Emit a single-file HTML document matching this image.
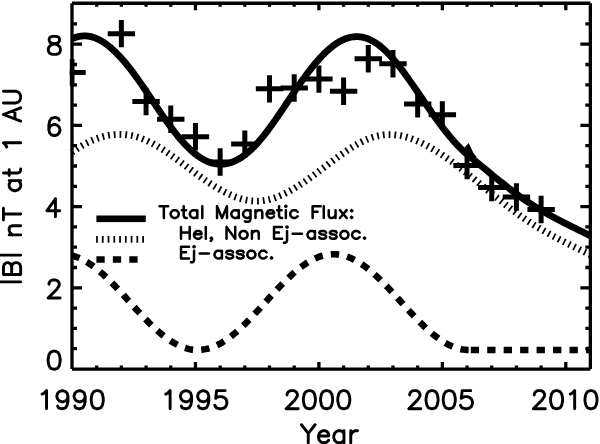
<!DOCTYPE html>
<html><head><meta charset="utf-8"><style>
html,body{margin:0;padding:0;background:#fff;font-family:"Liberation Sans",sans-serif;}
body{width:600px;height:444px;overflow:hidden;}
svg{display:block;}
</style></head><body>
<svg width="600" height="444" viewBox="0 0 600 444">
<defs><clipPath id="c"><rect x="69.6" y="0" width="521.4" height="372"/></clipPath></defs>
<path d="M72.0 3.25H590.35M72.0 369.1H590.35M72.0 3.25V369.1M590.35 3.25V369.1" fill="none" stroke="#000" stroke-width="3.3" stroke-linecap="butt"/>
<path d="M96.69 369.1V365.5M96.69 3.25V6.85M121.38 369.1V365.5M121.38 3.25V6.85M146.07 369.1V365.5M146.07 3.25V6.85M170.76 369.1V365.5M170.76 3.25V6.85M195.45 369.1V362.1M195.45 3.25V10.25M220.14 369.1V365.5M220.14 3.25V6.85M244.83 369.1V365.5M244.83 3.25V6.85M269.52 369.1V365.5M269.52 3.25V6.85M294.21 369.1V365.5M294.21 3.25V6.85M318.90 369.1V362.1M318.90 3.25V10.25M343.59 369.1V365.5M343.59 3.25V6.85M368.28 369.1V365.5M368.28 3.25V6.85M392.97 369.1V365.5M392.97 3.25V6.85M417.66 369.1V365.5M417.66 3.25V6.85M442.35 369.1V362.1M442.35 3.25V10.25M467.04 369.1V365.5M467.04 3.25V6.85M491.73 369.1V365.5M491.73 3.25V6.85M516.42 369.1V365.5M516.42 3.25V6.85M541.11 369.1V365.5M541.11 3.25V6.85M565.80 369.1V362.1M565.80 3.25V10.25M72.0 348.70H77.0M590.35 348.70H585.35M72.0 328.40H77.0M590.35 328.40H585.35M72.0 308.10H77.0M590.35 308.10H585.35M72.0 287.80H82.0M590.35 287.80H580.35M72.0 267.50H77.0M590.35 267.50H585.35M72.0 247.20H77.0M590.35 247.20H585.35M72.0 226.90H77.0M590.35 226.90H585.35M72.0 206.60H82.0M590.35 206.60H580.35M72.0 186.30H77.0M590.35 186.30H585.35M72.0 166.00H77.0M590.35 166.00H585.35M72.0 145.70H77.0M590.35 145.70H585.35M72.0 125.40H82.0M590.35 125.40H580.35M72.0 105.10H77.0M590.35 105.10H585.35M72.0 84.80H77.0M590.35 84.80H585.35M72.0 64.50H77.0M590.35 64.50H585.35M72.0 44.20H82.0M590.35 44.20H580.35M72.0 23.90H77.0M590.35 23.90H585.35" stroke="#000" stroke-width="3.3" fill="none"/>
<g clip-path="url(#c)" fill="none" stroke="#000">
<polyline points="72.00,38.79 73.23,38.24 74.47,37.75 75.70,37.32 76.94,36.94 78.17,36.62 79.41,36.37 80.64,36.17 81.88,36.02 83.11,35.94 84.34,35.91 85.58,35.93 86.81,36.01 88.05,36.15 89.28,36.34 90.52,36.59 91.75,36.89 92.99,37.24 94.22,37.64 95.46,38.10 96.69,38.61 97.92,39.16 99.16,39.77 100.39,40.43 101.63,41.13 102.86,41.88 104.10,42.68 105.33,43.52 106.57,44.41 107.80,45.35 109.03,46.32 110.27,47.34 111.50,48.40 112.74,49.51 113.97,50.65 115.21,51.83 116.44,53.05 117.68,54.30 118.91,55.59 120.15,56.92 121.38,58.28 122.61,59.67 123.85,61.10 125.08,62.56 126.32,64.04 127.55,65.56 128.79,67.11 130.02,68.68 131.26,70.27 132.49,71.90 133.72,73.55 134.96,75.22 136.19,76.91 137.43,78.62 138.66,80.36 139.90,82.11 141.13,83.88 142.37,85.66 143.60,87.46 144.84,89.27 146.07,91.09 147.30,92.92 148.54,94.75 149.77,96.59 151.01,98.43 152.24,100.28 153.48,102.12 154.71,103.96 155.95,105.80 157.18,107.63 158.42,109.46 159.65,111.27 160.88,113.08 162.12,114.88 163.35,116.66 164.59,118.43 165.82,120.18 167.06,121.91 168.29,123.63 169.53,125.32 170.76,127.00 171.99,128.65 173.23,130.28 174.46,131.88 175.70,133.45 176.93,135.00 178.17,136.52 179.40,138.01 180.64,139.46 181.87,140.89 183.11,142.28 184.34,143.63 185.57,144.95 186.81,146.23 188.04,147.47 189.28,148.68 190.51,149.84 191.75,150.97 192.98,152.05 194.22,153.09 195.45,154.09 196.68,155.05 197.92,155.96 199.15,156.82 200.39,157.64 201.62,158.41 202.86,159.14 204.09,159.82 205.33,160.45 206.56,161.04 207.80,161.57 209.03,162.06 210.26,162.50 211.50,162.89 212.73,163.23 213.97,163.53 215.20,163.77 216.44,163.96 217.67,164.11 218.91,164.20 220.14,164.25 221.37,164.24 222.61,164.19 223.84,164.09 225.08,163.93 226.31,163.73 227.55,163.48 228.78,163.18 230.02,162.83 231.25,162.43 232.49,161.98 233.72,161.48 234.95,160.94 236.19,160.35 237.42,159.71 238.66,159.02 239.89,158.29 241.13,157.51 242.36,156.69 243.60,155.82 244.83,154.90 246.06,153.94 247.30,152.94 248.53,151.89 249.77,150.80 251.00,149.66 252.24,148.48 253.47,147.27 254.71,146.01 255.94,144.71 257.18,143.36 258.41,141.98 259.64,140.57 260.88,139.11 262.11,137.62 263.35,136.09 264.58,134.54 265.82,132.95 267.05,131.34 268.29,129.69 269.52,128.03 270.75,126.34 271.99,124.63 273.22,122.89 274.46,121.15 275.69,119.38 276.93,117.60 278.16,115.80 279.40,114.00 280.63,112.18 281.87,110.36 283.10,108.53 284.33,106.69 285.57,104.85 286.80,103.01 288.04,101.17 289.27,99.33 290.51,97.49 291.74,95.66 292.98,93.83 294.21,92.01 295.44,90.20 296.68,88.40 297.91,86.61 299.15,84.83 300.38,83.07 301.62,81.32 302.85,79.59 304.09,77.88 305.32,76.19 306.56,74.52 307.79,72.87 309.02,71.25 310.26,69.65 311.49,68.08 312.73,66.53 313.96,65.01 315.20,63.52 316.43,62.06 317.67,60.64 318.90,59.24 320.13,57.88 321.37,56.55 322.60,55.26 323.84,54.00 325.07,52.78 326.31,51.60 327.54,50.46 328.78,49.36 330.01,48.30 331.25,47.28 332.48,46.30 333.71,45.37 334.95,44.48 336.18,43.64 337.42,42.84 338.65,42.08 339.89,41.38 341.12,40.72 342.36,40.11 343.59,39.55 344.82,39.03 346.06,38.57 347.29,38.15 348.53,37.79 349.76,37.48 351.00,37.21 352.23,37.00 353.47,36.84 354.70,36.73 355.94,36.67 357.17,36.67 358.40,36.71 359.64,36.81 360.87,36.96 362.11,37.17 363.34,37.42 364.58,37.73 365.81,38.10 367.05,38.51 368.28,38.98 369.51,39.50 370.75,40.07 371.98,40.69 373.22,41.37 374.45,42.09 375.69,42.87 376.92,43.71 378.16,44.59 379.39,45.52 380.62,46.51 381.86,47.54 383.09,48.62 384.33,49.74 385.56,50.91 386.80,52.12 388.03,53.38 389.27,54.67 390.50,56.00 391.74,57.37 392.97,58.78 394.20,60.22 395.44,61.69 396.67,63.19 397.91,64.72 399.14,66.28 400.38,67.87 401.61,69.48 402.85,71.12 404.08,72.77 405.31,74.45 406.55,76.15 407.78,77.86 409.02,79.60 410.25,81.34 411.49,83.10 412.72,84.87 413.96,86.65 415.19,88.44 416.43,90.23 417.66,92.03 418.89,93.84 420.13,95.65 421.36,97.46 422.60,99.27 423.83,101.07 425.07,102.88 426.30,104.68 427.54,106.48 428.77,108.27 430.00,110.05 431.24,111.82 432.47,113.58 433.71,115.33 434.94,117.07 436.18,118.79 437.41,120.49 438.65,122.18 439.88,123.86 441.12,125.51 442.35,127.14 443.58,128.75 444.82,130.35 446.05,131.91 447.29,133.46 448.52,134.98 449.76,136.47 450.99,137.94 452.23,139.38 453.46,140.79 454.69,142.18 455.93,143.53 457.16,144.86 458.40,146.15 459.63,147.41 460.87,148.64 462.10,149.84 463.34,151.01 464.57,152.14 465.81,153.24 467.04,154.31 468.27,155.34 469.51,156.34 470.74,157.33 471.98,158.33 473.21,159.33 474.45,160.34 475.68,161.34 476.92,162.35 478.15,163.36 479.39,164.38 480.62,165.39 481.85,166.41 483.09,167.42 484.32,168.44 485.56,169.45 486.79,170.47 488.03,171.49 489.26,172.50 490.50,173.51 491.73,174.52 492.96,175.53 494.20,176.54 495.43,177.55 496.67,178.55 497.90,179.55 499.14,180.54 500.37,181.54 501.61,182.52 502.84,183.51 504.08,184.49 505.31,185.46 506.54,186.43 507.78,187.39 509.01,188.35 510.25,189.30 511.48,190.24 512.72,191.18 513.95,192.11 515.19,193.03 516.42,193.95 517.65,194.85 518.89,195.75 520.12,196.64 521.36,197.52 522.59,198.39 523.83,199.25 525.06,200.10 526.30,200.94 527.53,201.77 528.77,202.58 530.00,203.39 531.23,204.19 532.47,204.98 533.70,205.76 534.94,206.54 536.17,207.30 537.41,208.05 538.64,208.80 539.88,209.54 541.11,210.27 542.34,210.99 543.58,211.71 544.81,212.42 546.05,213.12 547.28,213.81 548.52,214.50 549.75,215.19 550.99,215.86 552.22,216.53 553.46,217.20 554.69,217.86 555.92,218.52 557.16,219.17 558.39,219.81 559.63,220.46 560.86,221.10 562.10,221.73 563.33,222.36 564.57,222.99 565.80,223.61 567.03,224.24 568.27,224.85 569.50,225.47 570.74,226.09 571.97,226.70 573.21,227.31 574.44,227.92 575.68,228.53 576.91,229.14 578.14,229.74 579.38,230.35 580.61,230.96 581.85,231.56 583.08,232.17 584.32,232.78 585.55,233.39 586.79,233.99 588.02,234.60 589.26,235.22 590.49,235.83" stroke-width="6.8" stroke-linejoin="round"/>
<polygon points="463.6,148.6 468.7,143.1 473.2,152.4 476.8,157.2 470,157 465,152" fill="#000" stroke="none"/>
<polyline points="72.00,152.22 73.23,151.34 74.47,150.47 75.70,149.63 76.94,148.81 78.17,148.01 79.41,147.23 80.64,146.47 81.88,145.73 83.11,145.02 84.34,144.33 85.58,143.66 86.81,143.01 88.05,142.39 89.28,141.78 90.52,141.20 91.75,140.65 92.99,140.11 94.22,139.60 95.46,139.11 96.69,138.65 97.92,138.21 99.16,137.79 100.39,137.39 101.63,137.02 102.86,136.67 104.10,136.35 105.33,136.05 106.57,135.78 107.80,135.53 109.03,135.30 110.27,135.10 111.50,134.92 112.74,134.77 113.97,134.64 115.21,134.53 116.44,134.46 117.68,134.40 118.91,134.37 120.15,134.37 121.38,134.40 122.61,134.44 123.85,134.52 125.08,134.62 126.32,134.75 127.55,134.90 128.79,135.08 130.02,135.28 131.26,135.51 132.49,135.77 133.72,136.05 134.96,136.37 136.19,136.70 137.43,137.07 138.66,137.46 139.90,137.88 141.13,138.32 142.37,138.79 143.60,139.29 144.84,139.81 146.07,140.35 147.30,140.91 148.54,141.50 149.77,142.11 151.01,142.73 152.24,143.38 153.48,144.05 154.71,144.73 155.95,145.43 157.18,146.15 158.42,146.89 159.65,147.64 160.88,148.41 162.12,149.19 163.35,149.98 164.59,150.79 165.82,151.61 167.06,152.44 168.29,153.29 169.53,154.14 170.76,155.00 171.99,155.87 173.23,156.75 174.46,157.64 175.70,158.53 176.93,159.43 178.17,160.34 179.40,161.25 180.64,162.16 181.87,163.08 183.11,164.00 184.34,164.92 185.57,165.84 186.81,166.77 188.04,167.69 189.28,168.62 190.51,169.54 191.75,170.46 192.98,171.37 194.22,172.29 195.45,173.20 196.68,174.10 197.92,175.00 199.15,175.90 200.39,176.78 201.62,177.66 202.86,178.54 204.09,179.40 205.33,180.26 206.56,181.10 207.80,181.94 209.03,182.77 210.26,183.58 211.50,184.38 212.73,185.18 213.97,185.96 215.20,186.72 216.44,187.48 217.67,188.21 218.91,188.94 220.14,189.65 221.37,190.34 222.61,191.02 223.84,191.68 225.08,192.32 226.31,192.94 227.55,193.55 228.78,194.14 230.02,194.70 231.25,195.25 232.49,195.78 233.72,196.28 234.95,196.76 236.19,197.23 237.42,197.66 238.66,198.08 239.89,198.47 241.13,198.83 242.36,199.17 243.60,199.49 244.83,199.78 246.06,200.04 247.30,200.28 248.53,200.48 249.77,200.66 251.00,200.81 252.24,200.93 253.47,201.02 254.71,201.08 255.94,201.11 257.18,201.11 258.41,201.07 259.64,201.01 260.88,200.91 262.11,200.78 263.35,200.62 264.58,200.43 265.82,200.21 267.05,199.96 268.29,199.68 269.52,199.38 270.75,199.05 271.99,198.69 273.22,198.31 274.46,197.90 275.69,197.47 276.93,197.01 278.16,196.53 279.40,196.03 280.63,195.50 281.87,194.96 283.10,194.39 284.33,193.80 285.57,193.19 286.80,192.56 288.04,191.92 289.27,191.25 290.51,190.57 291.74,189.87 292.98,189.15 294.21,188.42 295.44,187.67 296.68,186.91 297.91,186.13 299.15,185.34 300.38,184.54 301.62,183.72 302.85,182.90 304.09,182.06 305.32,181.21 306.56,180.35 307.79,179.48 309.02,178.60 310.26,177.71 311.49,176.82 312.73,175.92 313.96,175.01 315.20,174.10 316.43,173.18 317.67,172.25 318.90,171.32 320.13,170.39 321.37,169.46 322.60,168.52 323.84,167.58 325.07,166.64 326.31,165.70 327.54,164.76 328.78,163.82 330.01,162.89 331.25,161.95 332.48,161.03 333.71,160.10 334.95,159.18 336.18,158.27 337.42,157.36 338.65,156.46 339.89,155.56 341.12,154.68 342.36,153.80 343.59,152.94 344.82,152.09 346.06,151.24 347.29,150.41 348.53,149.60 349.76,148.79 351.00,148.01 352.23,147.23 353.47,146.48 354.70,145.74 355.94,145.01 357.17,144.31 358.40,143.62 359.64,142.95 360.87,142.31 362.11,141.68 363.34,141.08 364.58,140.50 365.81,139.94 367.05,139.41 368.28,138.90 369.51,138.42 370.75,137.96 371.98,137.53 373.22,137.13 374.45,136.75 375.69,136.41 376.92,136.09 378.16,135.81 379.39,135.56 380.62,135.33 381.86,135.14 383.09,134.98 384.33,134.85 385.56,134.75 386.80,134.67 388.03,134.63 389.27,134.61 390.50,134.63 391.74,134.67 392.97,134.73 394.20,134.82 395.44,134.94 396.67,135.09 397.91,135.26 399.14,135.46 400.38,135.68 401.61,135.92 402.85,136.19 404.08,136.48 405.31,136.80 406.55,137.14 407.78,137.50 409.02,137.88 410.25,138.28 411.49,138.71 412.72,139.15 413.96,139.62 415.19,140.11 416.43,140.61 417.66,141.14 418.89,141.68 420.13,142.24 421.36,142.82 422.60,143.42 423.83,144.03 425.07,144.67 426.30,145.31 427.54,145.98 428.77,146.66 430.00,147.35 431.24,148.06 432.47,148.79 433.71,149.52 434.94,150.28 436.18,151.04 437.41,151.82 438.65,152.61 439.88,153.41 441.12,154.22 442.35,155.05 443.58,155.88 444.82,156.73 446.05,157.59 447.29,158.45 448.52,159.33 449.76,160.22 450.99,161.11 452.23,162.01 453.46,162.92 454.69,163.84 455.93,164.77 457.16,165.71 458.40,166.65 459.63,167.60 460.87,168.55 462.10,169.51 463.34,170.48 464.57,171.45 465.81,172.43 467.04,173.41 468.27,174.40 469.51,175.39 470.74,176.38 471.98,177.38 473.21,178.38 474.45,179.38 475.68,180.39 476.92,181.40 478.15,182.41 479.39,183.42 480.62,184.44 481.85,185.45 483.09,186.47 484.32,187.48 485.56,188.50 486.79,189.52 488.03,190.53 489.26,191.55 490.50,192.56 491.73,193.57 492.96,194.58 494.20,195.59 495.43,196.59 496.67,197.60 497.90,198.60 499.14,199.59 500.37,200.58 501.61,201.57 502.84,202.55 504.08,203.53 505.31,204.51 506.54,205.48 507.78,206.44 509.01,207.40 510.25,208.35 511.48,209.29 512.72,210.23 513.95,211.16 515.19,212.08 516.42,212.99 517.65,213.90 518.89,214.80 520.12,215.68 521.36,216.56 522.59,217.43 523.83,218.29 525.06,219.14 526.30,219.98 527.53,220.81 528.77,221.63 530.00,222.44 531.23,223.24 532.47,224.03 533.70,224.81 534.94,225.58 536.17,226.35 537.41,227.10 538.64,227.85 539.88,228.58 541.11,229.32 542.34,230.04 543.58,230.75 544.81,231.46 546.05,232.17 547.28,232.86 548.52,233.55 549.75,234.23 550.99,234.91 552.22,235.58 553.46,236.25 554.69,236.91 555.92,237.56 557.16,238.21 558.39,238.86 559.63,239.50 560.86,240.14 562.10,240.78 563.33,241.41 564.57,242.04 565.80,242.66 567.03,243.28 568.27,243.90 569.50,244.52 570.74,245.13 571.97,245.75 573.21,246.36 574.44,246.97 575.68,247.58 576.91,248.18 578.14,248.79 579.38,249.40 580.61,250.00 581.85,250.61 583.08,251.22 584.32,251.82 585.55,252.43 586.79,253.04 588.02,253.65 589.26,254.26 590.49,254.87" stroke-width="6.8" stroke-dasharray="1.75 4.015" stroke-dashoffset="0.250"/>
<polyline points="72.00,255.57 73.32,255.93 74.65,256.33 75.97,256.78 77.29,257.27 78.62,257.80 79.94,258.38 81.26,258.99 82.59,259.65 83.91,260.34 85.24,261.08 86.56,261.85 87.88,262.66 89.21,263.51 90.53,264.39 91.85,265.31 93.18,266.26 94.50,267.25 95.82,268.27 97.15,269.32 98.47,270.41 99.79,271.52 101.12,272.66 102.44,273.83 103.77,275.03 105.09,276.25 106.41,277.49 107.74,278.76 109.06,280.05 110.38,281.36 111.71,282.69 113.03,284.04 114.35,285.40 115.68,286.79 117.00,288.18 118.32,289.59 119.65,291.01 120.97,292.44 122.29,293.88 123.62,295.33 124.94,296.78 126.27,298.24 127.59,299.70 128.91,301.17 130.24,302.63 131.56,304.10 132.88,305.56 134.21,307.02 135.53,308.48 136.85,309.93 138.18,311.37 139.50,312.80 140.82,314.23 142.15,315.64 143.47,317.04 144.80,318.42 146.12,319.79 147.44,321.15 148.77,322.48 150.09,323.80 151.41,325.10 152.74,326.37 154.06,327.62 155.38,328.85 156.71,330.05 158.03,331.23 159.35,332.38 160.68,333.50 162.00,334.59 163.33,335.65 164.65,336.68 165.97,337.68 167.30,338.64 168.62,339.57 169.94,340.46 171.27,341.32 172.59,342.14 173.91,342.93 175.24,343.67 176.56,344.38 177.88,345.05 179.21,345.67 180.53,346.26 181.85,346.80 183.18,347.30 184.50,347.76 185.83,348.18 187.15,348.55 188.47,348.88 189.80,349.17 191.12,349.41 192.44,349.61 193.77,349.76 195.09,349.87 196.41,349.93 197.74,349.95 199.06,349.93 200.38,349.86 201.71,349.74 203.03,349.58 204.36,349.37 205.68,349.12 207.00,348.83 208.33,348.49 209.65,348.11 210.97,347.69 212.30,347.22 213.62,346.71 214.94,346.16 216.27,345.57 217.59,344.93 218.91,344.26 220.24,343.55 221.56,342.79 222.88,342.00 224.21,341.18 225.53,340.31 226.86,339.41 228.18,338.48 229.50,337.51 230.83,336.51 232.15,335.47 233.47,334.40 234.80,333.31 236.12,332.18 237.44,331.03 238.77,329.85 240.09,328.64 241.41,327.41 242.74,326.15 244.06,324.87 245.39,323.57 246.71,322.25 248.03,320.92 249.36,319.56 250.68,318.19 252.00,316.80 253.33,315.40 254.65,313.98 255.97,312.56 257.30,311.12 258.62,309.68 259.94,308.23 261.27,306.77 262.59,305.31 263.91,303.85 265.24,302.38 266.56,300.92 267.89,299.45 269.21,297.99 270.53,296.53 271.86,295.08 273.18,293.63 274.50,292.19 275.83,290.76 277.15,289.35 278.47,287.94 279.80,286.55 281.12,285.17 282.44,283.81 283.77,282.46 285.09,281.13 286.42,279.83 287.74,278.54 289.06,277.28 290.39,276.03 291.71,274.82 293.03,273.63 294.36,272.46 295.68,271.33 297.00,270.22 298.33,269.14 299.65,268.09 300.97,267.08 302.30,266.10 303.62,265.15 304.94,264.24 306.27,263.36 307.59,262.52 308.92,261.71 310.24,260.95 311.56,260.22 312.89,259.53 314.21,258.88 315.53,258.28 316.86,257.71 318.18,257.18 319.50,256.70 320.83,256.26 322.15,255.86 323.47,255.51 324.80,255.20 326.12,254.93 327.45,254.71 328.77,254.53 330.09,254.40 331.42,254.31 332.74,254.27 334.06,254.27 335.39,254.32 336.71,254.41 338.03,254.55 339.36,254.73 340.68,254.95 342.00,255.22 343.33,255.54 344.65,255.90 345.98,256.30 347.30,256.74 348.62,257.23 349.95,257.76 351.27,258.33 352.59,258.94 353.92,259.59 355.24,260.28 356.56,261.01 357.89,261.78 359.21,262.59 360.53,263.43 361.86,264.31 363.18,265.23 364.50,266.18 365.83,267.17 367.15,268.18 368.48,269.23 369.80,270.31 371.12,271.42 372.45,272.56 373.77,273.73 375.09,274.92 376.42,276.14 377.74,277.38 379.06,278.65 380.39,279.94 381.71,281.25 383.03,282.58 384.36,283.92 385.68,285.29 387.01,286.67 388.33,288.06 389.65,289.47 390.98,290.89 392.30,292.32 393.62,293.76 394.95,295.20 396.27,296.66 397.59,298.12 398.92,299.58 400.24,301.04 401.56,302.51 402.89,303.97 404.21,305.44 405.53,306.90 406.86,308.35 408.18,309.80 409.51,311.25 410.83,312.68 412.15,314.10 413.48,315.52 414.80,316.92 416.12,318.31 417.45,319.68 418.77,321.03 420.09,322.37 421.42,323.69 422.74,324.98 424.06,326.26 425.39,327.51 426.71,328.74 428.04,329.95 429.36,331.13 430.68,332.28 432.01,333.40 433.33,334.50 434.65,335.56 435.98,336.59 437.30,337.59 438.62,338.56 439.95,339.49 441.27,340.39 442.59,341.25 443.92,342.07 445.24,342.86 446.56,343.61 447.89,344.32 449.21,344.99 450.54,345.62 451.86,346.21 453.18,346.76 454.51,347.26 455.83,347.73 457.15,348.15 458.48,348.52 459.80,348.86 461.12,349.15 462.45,349.39 463.77,349.59 465.09,349.75 466.42,349.86 467.74,349.93 469.07,349.95" stroke-width="6.6" stroke-dasharray="8.3 8.160" stroke-dashoffset="0.408"/>
<path d="M469.07 349.95H595" stroke-width="6.6" stroke-dasharray="8.3 8.160" stroke-dashoffset="-1.685"/>
<path d="M58.30 72.62H85.70M72.00 58.92V86.32M107.68 33.64H135.08M121.38 19.94V47.34M132.37 101.45H159.77M146.07 87.75V115.15M157.06 119.31H184.46M170.76 105.61V133.01M181.75 136.77H209.15M195.45 123.07V150.47M206.44 161.94H233.84M220.14 148.24V175.64M231.13 144.08H258.53M244.83 130.38V157.78M255.82 88.86H283.22M269.52 75.16V102.56M280.51 88.05H307.91M294.21 74.35V101.75M305.20 79.12H332.60M318.90 65.42V92.82M329.89 91.30H357.29M343.59 77.60V105.00M354.58 58.82H381.98M368.28 45.12V72.52M379.27 63.69H406.67M392.97 49.99V77.39M403.96 103.88H431.36M417.66 90.18V117.58M428.65 114.84H456.05M442.35 101.14V128.54M453.34 165.59H480.74M467.04 151.89V179.29M478.03 187.52H505.43M491.73 173.82V201.22M502.72 197.06H530.12M516.42 183.36V210.76M527.41 209.44H554.81M541.11 195.74V223.14" stroke-width="5.0"/>
</g>
<rect x="96.4" y="215.5" width="49.4" height="6.6" fill="#000"/>
<path d="M96.1 239.4H146" stroke="#000" stroke-width="6.8" stroke-dasharray="1.75 4.015"/>
<path d="M96.4 259.5H139" stroke="#000" stroke-width="6.6" stroke-dasharray="8.3 8.160"/>
<path d="M52.63 36.35L50.05 37.21L49.19 38.93L49.19 40.65L50.05 42.37L51.77 43.23L55.21 44.09L57.79 44.95L59.51 46.67L60.37 48.39L60.37 50.97L59.51 52.69L58.65 53.55L56.07 54.41L52.63 54.41L50.05 53.55L49.19 52.69L48.33 50.97L48.33 48.39L49.19 46.67L50.91 44.95L53.49 44.09L56.93 43.23L58.65 42.37L59.51 40.65L59.51 38.93L58.65 37.21L56.07 36.35L52.63 36.35M59.13 120.13L58.27 118.41L55.69 117.55L53.97 117.55L51.39 118.41L49.67 120.99L48.81 125.29L48.81 129.59L49.67 133.03L51.39 134.75L53.97 135.61L54.83 135.61L57.41 134.75L59.13 133.03L59.99 130.45L59.99 129.59L59.13 127.01L57.41 125.29L54.83 124.43L53.97 124.43L51.39 125.29L49.67 127.01L48.81 129.59M55.45 198.75L46.85 210.79L59.75 210.79M55.45 198.75L55.45 216.81M48.94 284.25L48.94 283.39L49.80 281.67L50.66 280.81L52.38 279.95L55.82 279.95L57.54 280.81L58.40 281.67L59.26 283.39L59.26 285.11L58.40 286.83L56.68 289.41L48.08 298.01L60.12 298.01M53.29 351.15L50.71 352.01L48.99 354.59L48.13 358.89L48.13 361.47L48.99 365.77L50.71 368.35L53.29 369.21L55.01 369.21L57.59 368.35L59.31 365.77L60.17 361.47L60.17 358.89L59.31 354.59L57.59 352.01L55.01 351.15L53.29 351.15M42.22 394.09L43.94 393.23L46.52 390.65L46.52 408.71M68.02 396.67L67.16 399.25L65.44 400.97L62.86 401.83L62.00 401.83L59.42 400.97L57.70 399.25L56.84 396.67L56.84 395.81L57.70 393.23L59.42 391.51L62.00 390.65L62.86 390.65L65.44 391.51L67.16 393.23L68.02 396.67L68.02 400.97L67.16 405.27L65.44 407.85L62.86 408.71L61.14 408.71L58.56 407.85L57.70 406.13M85.22 396.67L84.36 399.25L82.64 400.97L80.06 401.83L79.20 401.83L76.62 400.97L74.90 399.25L74.04 396.67L74.04 395.81L74.90 393.23L76.62 391.51L79.20 390.65L80.06 390.65L82.64 391.51L84.36 393.23L85.22 396.67L85.22 400.97L84.36 405.27L82.64 407.85L80.06 408.71L78.34 408.71L75.76 407.85L74.90 406.13M96.40 390.65L93.82 391.51L92.10 394.09L91.24 398.39L91.24 400.97L92.10 405.27L93.82 407.85L96.40 408.71L98.12 408.71L100.70 407.85L102.42 405.27L103.28 400.97L103.28 398.39L102.42 394.09L100.70 391.51L98.12 390.65L96.40 390.65M165.82 394.09L167.54 393.23L170.12 390.65L170.12 408.71M191.62 396.67L190.76 399.25L189.04 400.97L186.46 401.83L185.60 401.83L183.02 400.97L181.30 399.25L180.44 396.67L180.44 395.81L181.30 393.23L183.02 391.51L185.60 390.65L186.46 390.65L189.04 391.51L190.76 393.23L191.62 396.67L191.62 400.97L190.76 405.27L189.04 407.85L186.46 408.71L184.74 408.71L182.16 407.85L181.30 406.13M208.82 396.67L207.96 399.25L206.24 400.97L203.66 401.83L202.80 401.83L200.22 400.97L198.50 399.25L197.64 396.67L197.64 395.81L198.50 393.23L200.22 391.51L202.80 390.65L203.66 390.65L206.24 391.51L207.96 393.23L208.82 396.67L208.82 400.97L207.96 405.27L206.24 407.85L203.66 408.71L201.94 408.71L199.36 407.85L198.50 406.13M225.16 390.65L216.56 390.65L215.70 398.39L216.56 397.53L219.14 396.67L221.72 396.67L224.30 397.53L226.02 399.25L226.88 401.83L226.88 403.55L226.02 406.13L224.30 407.85L221.72 408.71L219.14 408.71L216.56 407.85L215.70 406.99L214.84 405.27M287.04 394.95L287.04 394.09L287.90 392.37L288.76 391.51L290.48 390.65L293.92 390.65L295.64 391.51L296.50 392.37L297.36 394.09L297.36 395.81L296.50 397.53L294.78 400.11L286.18 408.71L298.22 408.71M308.54 390.65L305.96 391.51L304.24 394.09L303.38 398.39L303.38 400.97L304.24 405.27L305.96 407.85L308.54 408.71L310.26 408.71L312.84 407.85L314.56 405.27L315.42 400.97L315.42 398.39L314.56 394.09L312.84 391.51L310.26 390.65L308.54 390.65M325.74 390.65L323.16 391.51L321.44 394.09L320.58 398.39L320.58 400.97L321.44 405.27L323.16 407.85L325.74 408.71L327.46 408.71L330.04 407.85L331.76 405.27L332.62 400.97L332.62 398.39L331.76 394.09L330.04 391.51L327.46 390.65L325.74 390.65M342.94 390.65L340.36 391.51L338.64 394.09L337.78 398.39L337.78 400.97L338.64 405.27L340.36 407.85L342.94 408.71L344.66 408.71L347.24 407.85L348.96 405.27L349.82 400.97L349.82 398.39L348.96 394.09L347.24 391.51L344.66 390.65L342.94 390.65M409.69 394.95L409.69 394.09L410.55 392.37L411.41 391.51L413.13 390.65L416.57 390.65L418.29 391.51L419.15 392.37L420.01 394.09L420.01 395.81L419.15 397.53L417.43 400.11L408.83 408.71L420.87 408.71M431.19 390.65L428.61 391.51L426.89 394.09L426.03 398.39L426.03 400.97L426.89 405.27L428.61 407.85L431.19 408.71L432.91 408.71L435.49 407.85L437.21 405.27L438.07 400.97L438.07 398.39L437.21 394.09L435.49 391.51L432.91 390.65L431.19 390.65M448.39 390.65L445.81 391.51L444.09 394.09L443.23 398.39L443.23 400.97L444.09 405.27L445.81 407.85L448.39 408.71L450.11 408.71L452.69 407.85L454.41 405.27L455.27 400.97L455.27 398.39L454.41 394.09L452.69 391.51L450.11 390.65L448.39 390.65M470.75 390.65L462.15 390.65L461.29 398.39L462.15 397.53L464.73 396.67L467.31 396.67L469.89 397.53L471.61 399.25L472.47 401.83L472.47 403.55L471.61 406.13L469.89 407.85L467.31 408.71L464.73 408.71L462.15 407.85L461.29 406.99L460.43 405.27M534.24 394.95L534.24 394.09L535.10 392.37L535.96 391.51L537.68 390.65L541.12 390.65L542.84 391.51L543.70 392.37L544.56 394.09L544.56 395.81L543.70 397.53L541.98 400.11L533.38 408.71L545.42 408.71M555.74 390.65L553.16 391.51L551.44 394.09L550.58 398.39L550.58 400.97L551.44 405.27L553.16 407.85L555.74 408.71L557.46 408.71L560.04 407.85L561.76 405.27L562.62 400.97L562.62 398.39L561.76 394.09L560.04 391.51L557.46 390.65L555.74 390.65M570.36 394.09L572.08 393.23L574.66 390.65L574.66 408.71M590.14 390.65L587.56 391.51L585.84 394.09L584.98 398.39L584.98 400.97L585.84 405.27L587.56 407.85L590.14 408.71L591.86 408.71L594.44 407.85L596.16 405.27L597.02 400.97L597.02 398.39L596.16 394.09L594.44 391.51L591.86 390.65L590.14 390.65M301.45 424.75L308.25 433.35L308.25 442.81M315.05 424.75L308.25 433.35M318.45 435.93L328.65 435.93L328.65 434.21L327.80 432.49L326.95 431.63L325.25 430.77L322.70 430.77L321.00 431.63L319.30 433.35L318.45 435.93L318.45 437.65L319.30 440.23L321.00 441.95L322.70 442.81L325.25 442.81L326.95 441.95L328.65 440.23M343.95 430.77L343.95 442.81M343.95 433.35L342.25 431.63L340.55 430.77L338.00 430.77L336.30 431.63L334.60 433.35L333.75 435.93L333.75 437.65L334.60 440.23L336.30 441.95L338.00 442.81L340.55 442.81L342.25 441.95L343.95 440.23M350.75 430.77L350.75 442.81M350.75 435.93L351.60 433.35L353.30 431.63L355.00 430.77L357.55 430.77" fill="none" stroke="#000" stroke-width="2.9" stroke-linecap="round" stroke-linejoin="round"/>
<path d="M20.67 281.90L0.17 281.90M3.45 274.43L20.67 274.43M3.45 274.43L3.45 266.87L4.27 264.35L5.09 263.51L6.73 262.67L8.37 262.67L10.01 263.51L10.83 264.35L11.65 266.87M11.65 274.43L11.65 266.87L12.47 264.35L13.29 263.51L14.93 262.67L17.39 262.67L19.03 263.51L19.85 264.35L20.67 266.87L20.67 274.43M20.67 255.10L0.17 255.10M9.19 234.92L20.67 234.92M12.47 234.92L10.01 232.40L9.19 230.72L9.19 228.20L10.01 226.52L12.47 225.68L20.67 225.68M3.45 214.05L20.67 214.05M3.45 219.93L3.45 208.17M9.19 180.61L20.67 180.61M11.65 180.61L10.01 182.29L9.19 183.97L9.19 186.49L10.01 188.17L11.65 189.85L14.11 190.69L15.75 190.69L18.21 189.85L19.85 188.17L20.67 186.49L20.67 183.97L19.85 182.29L18.21 180.61M3.45 173.04L17.39 173.04L19.85 172.20L20.67 170.52L20.67 168.84M9.19 175.56L9.19 169.68M6.73 147.00L5.91 145.32L3.45 142.80L20.67 142.80M3.45 114.50L20.67 121.22M3.45 114.50L20.67 107.78M14.93 118.70L14.93 110.30M3.45 102.98L15.75 102.98L18.21 102.14L19.85 100.46L20.67 97.94L20.67 96.26L19.85 93.74L18.21 92.06L15.75 91.22L3.45 91.22" fill="none" stroke="#000" stroke-width="2.9" stroke-linecap="round" stroke-linejoin="round"/>
<path d="M163.85 206.25L163.85 217.95M159.51 206.25L168.19 206.25M173.77 210.15L172.53 210.71L171.29 211.82L170.67 213.49L170.67 214.60L171.29 216.28L172.53 217.39L173.77 217.95L175.63 217.95L176.87 217.39L178.11 216.28L178.73 214.60L178.73 213.49L178.11 211.82L176.87 210.71L175.63 210.15L173.77 210.15M183.69 206.25L183.69 215.72L184.31 217.39L185.55 217.95L186.79 217.95M181.83 210.15L186.17 210.15M197.33 210.15L197.33 217.95M197.33 211.82L196.09 210.71L194.85 210.15L192.99 210.15L191.75 210.71L190.51 211.82L189.89 213.49L189.89 214.60L190.51 216.28L191.75 217.39L192.99 217.95L194.85 217.95L196.09 217.39L197.33 216.28M202.29 206.25L202.29 217.95M217.05 206.25L217.05 217.95M217.05 206.25L222.01 217.95M226.97 206.25L222.01 217.95M226.97 206.25L226.97 217.95M238.75 210.15L238.75 217.95M238.75 211.82L237.51 210.71L236.27 210.15L234.41 210.15L233.17 210.71L231.93 211.82L231.31 213.49L231.31 214.60L231.93 216.28L233.17 217.39L234.41 217.95L236.27 217.95L237.51 217.39L238.75 216.28M250.53 210.15L250.53 219.06L249.91 220.73L249.29 221.29L248.05 221.85L246.19 221.85L244.95 221.29M250.53 211.82L249.29 210.71L248.05 210.15L246.19 210.15L244.95 210.71L243.71 211.82L243.09 213.49L243.09 214.60L243.71 216.28L244.95 217.39L246.19 217.95L248.05 217.95L249.29 217.39L250.53 216.28M255.49 210.15L255.49 217.95M255.49 212.38L257.35 210.71L258.59 210.15L260.45 210.15L261.69 210.71L262.31 212.38L262.31 217.95M266.65 213.49L274.09 213.49L274.09 212.38L273.47 211.26L272.85 210.71L271.61 210.15L269.75 210.15L268.51 210.71L267.27 211.82L266.65 213.49L266.65 214.60L267.27 216.28L268.51 217.39L269.75 217.95L271.61 217.95L272.85 217.39L274.09 216.28M279.05 206.25L279.05 215.72L279.67 217.39L280.91 217.95L282.15 217.95M277.19 210.15L281.53 210.15M285.25 206.25L285.87 206.81L286.49 206.25L285.87 205.69L285.25 206.25M285.87 210.15L285.87 217.95M297.65 211.82L296.41 210.71L295.17 210.15L293.31 210.15L292.07 210.71L290.83 211.82L290.21 213.49L290.21 214.60L290.83 216.28L292.07 217.39L293.31 217.95L295.17 217.95L296.41 217.39L297.65 216.28M312.61 206.25L312.61 217.95M312.61 206.25L320.67 206.25M312.61 211.82L317.57 211.82M323.77 206.25L323.77 217.95M328.73 210.15L328.73 215.72L329.35 217.39L330.59 217.95L332.45 217.95L333.69 217.39L335.55 215.72M335.55 210.15L335.55 217.95M339.89 210.15L346.71 217.95M346.71 210.15L339.89 217.95M351.67 210.15L351.05 210.71L351.67 211.26L352.29 210.71L351.67 210.15M351.67 216.83L351.05 217.39L351.67 217.95L352.29 217.39L351.67 216.83M181.00 227.05L181.00 238.75M189.68 227.05L189.68 238.75M181.00 232.62L189.68 232.62M194.02 234.29L201.46 234.29L201.46 233.18L200.84 232.06L200.22 231.51L198.98 230.95L197.12 230.95L195.88 231.51L194.64 232.62L194.02 234.29L194.02 235.41L194.64 237.08L195.88 238.19L197.12 238.75L198.98 238.75L200.22 238.19L201.46 237.08M205.80 227.05L205.80 238.75M212.00 238.19L211.38 238.75L210.76 238.19L211.38 237.63L212.00 238.19L212.00 239.30L211.38 240.42L210.76 240.98M226.53 227.05L226.53 238.75M226.53 227.05L235.21 238.75M235.21 227.05L235.21 238.75M242.65 230.95L241.41 231.51L240.17 232.62L239.55 234.29L239.55 235.41L240.17 237.08L241.41 238.19L242.65 238.75L244.51 238.75L245.75 238.19L246.99 237.08L247.61 235.41L247.61 234.29L246.99 232.62L245.75 231.51L244.51 230.95L242.65 230.95M251.95 230.95L251.95 238.75M251.95 233.18L253.81 231.51L255.05 230.95L256.91 230.95L258.15 231.51L258.77 233.18L258.77 238.75M274.03 227.05L274.03 238.75M274.03 227.05L282.09 227.05M274.03 232.62L278.99 232.62M274.03 238.75L282.09 238.75M286.43 227.05L287.05 227.61L287.67 227.05L287.05 226.49L286.43 227.05M287.05 230.95L287.05 240.42L286.43 242.09L285.19 242.65L283.95 242.65M292.63 233.73L301.93 233.73M314.95 230.95L314.95 238.75M314.95 232.62L313.71 231.51L312.47 230.95L310.61 230.95L309.37 231.51L308.13 232.62L307.51 234.29L307.51 235.41L308.13 237.08L309.37 238.19L310.61 238.75L312.47 238.75L313.71 238.19L314.95 237.08M326.11 232.62L325.49 231.51L323.63 230.95L321.77 230.95L319.91 231.51L319.29 232.62L319.91 233.73L321.15 234.29L324.25 234.85L325.49 235.41L326.11 236.52L326.11 237.08L325.49 238.19L323.63 238.75L321.77 238.75L319.91 238.19L319.29 237.08M336.65 232.62L336.03 231.51L334.17 230.95L332.31 230.95L330.45 231.51L329.83 232.62L330.45 233.73L331.69 234.29L334.79 234.85L336.03 235.41L336.65 236.52L336.65 237.08L336.03 238.19L334.17 238.75L332.31 238.75L330.45 238.19L329.83 237.08M343.47 230.95L342.23 231.51L340.99 232.62L340.37 234.29L340.37 235.41L340.99 237.08L342.23 238.19L343.47 238.75L345.33 238.75L346.57 238.19L347.81 237.08L348.43 235.41L348.43 234.29L347.81 232.62L346.57 231.51L345.33 230.95L343.47 230.95M359.59 232.62L358.35 231.51L357.11 230.95L355.25 230.95L354.01 231.51L352.77 232.62L352.15 234.29L352.15 235.41L352.77 237.08L354.01 238.19L355.25 238.75L357.11 238.75L358.35 238.19L359.59 237.08M364.55 237.63L363.93 238.19L364.55 238.75L365.17 238.19L364.55 237.63M181.03 246.75L181.03 258.45M181.03 246.75L189.09 246.75M181.03 252.32L185.99 252.32M181.03 258.45L189.09 258.45M193.43 246.75L194.05 247.31L194.67 246.75L194.05 246.19L193.43 246.75M194.05 250.65L194.05 260.12L193.43 261.79L192.19 262.35L190.95 262.35M199.63 253.43L208.93 253.43M221.95 250.65L221.95 258.45M221.95 252.32L220.71 251.21L219.47 250.65L217.61 250.65L216.37 251.21L215.13 252.32L214.51 253.99L214.51 255.10L215.13 256.78L216.37 257.89L217.61 258.45L219.47 258.45L220.71 257.89L221.95 256.78M233.11 252.32L232.49 251.21L230.63 250.65L228.77 250.65L226.91 251.21L226.29 252.32L226.91 253.43L228.15 253.99L231.25 254.55L232.49 255.10L233.11 256.22L233.11 256.78L232.49 257.89L230.63 258.45L228.77 258.45L226.91 257.89L226.29 256.78M243.65 252.32L243.03 251.21L241.17 250.65L239.31 250.65L237.45 251.21L236.83 252.32L237.45 253.43L238.69 253.99L241.79 254.55L243.03 255.10L243.65 256.22L243.65 256.78L243.03 257.89L241.17 258.45L239.31 258.45L237.45 257.89L236.83 256.78M250.47 250.65L249.23 251.21L247.99 252.32L247.37 253.99L247.37 255.10L247.99 256.78L249.23 257.89L250.47 258.45L252.33 258.45L253.57 257.89L254.81 256.78L255.43 255.10L255.43 253.99L254.81 252.32L253.57 251.21L252.33 250.65L250.47 250.65M266.59 252.32L265.35 251.21L264.11 250.65L262.25 250.65L261.01 251.21L259.77 252.32L259.15 253.99L259.15 255.10L259.77 256.78L261.01 257.89L262.25 258.45L264.11 258.45L265.35 257.89L266.59 256.78M271.55 257.33L270.93 257.89L271.55 258.45L272.17 257.89L271.55 257.33" fill="none" stroke="#000" stroke-width="2.5" stroke-linecap="round" stroke-linejoin="round"/>
</svg>
</body></html>
